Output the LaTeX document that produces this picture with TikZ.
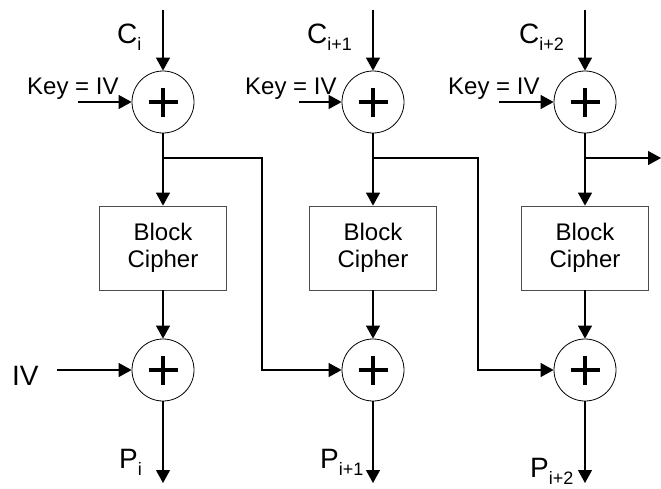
\documentclass[tikz,border=0pt]{standalone}
\usepackage{fontspec}
\setmainfont{Liberation Sans}
\usepackage{tikz}
\usetikzlibrary{arrows.meta}

\newcommand{\lblsub}[2]{{\fontsize{28}{30}\selectfont #1}\raisebox{-7.5pt}{\fontsize{18}{19}\selectfont #2}}

\begin{document}
\begin{tikzpicture}[x=1pt, y=-1pt,
      xorgate/.style = {
        circle, draw=black, line width=0.8pt,
        minimum size=62pt, inner sep=0pt,
        path picture={
          \draw[line width=4.8pt] ([xshift=-14.5pt]path picture bounding box.center) -- ([xshift=14.5pt]path picture bounding box.center);
          \draw[line width=4.8pt] ([yshift=-14.5pt]path picture bounding box.center) -- ([yshift=14.5pt]path picture bounding box.center);
        }
      },
      cipherbox/.style = {
        rectangle, draw=black!70, line width=0.8pt,
        minimum width=127pt, minimum height=84pt, inner sep=0pt,
        align=center, font=\fontsize{24}{26.5}\selectfont
      },
      flow/.style = {line width=1.2pt, -{Triangle[length=13pt, width=14pt]}},
      keytext/.style = {anchor=base west, inner sep=0pt, font=\fontsize{24}{26}\selectfont},
      lbl/.style = {anchor=base west, inner sep=0pt}
    ]

    \useasboundingbox (0,0) rectangle (661,488);

    % gates and ciphers
    \node[xorgate]   (xtop1) at (163,102) {};
    \node[xorgate]   (xtop2) at (373,102) {};
    \node[xorgate]   (xtop3) at (585,102) {};

    \node[cipherbox] (blk1)  at (163,248) {Block\\Cipher};
    \node[cipherbox] (blk2)  at (373,248) {Block\\Cipher};
    \node[cipherbox] (blk3)  at (585,248) {Block\\Cipher};

    \node[xorgate]   (xbot1) at (163,370) {};
    \node[xorgate]   (xbot2) at (373,370) {};
    \node[xorgate]   (xbot3) at (585,370) {};

    % free ends
    \coordinate (cin1)  at (163,10);
    \coordinate (cin2)  at (373,10);
    \coordinate (cin3)  at (585,10);
    \coordinate (kin1)  at (78,102);
    \coordinate (kin2)  at (299,102);
    \coordinate (kin3)  at (499,102);
    \coordinate (ivin)  at (57,370);
    \coordinate (pout1) at (163,483);
    \coordinate (pout2) at (373,483);
    \coordinate (pout3) at (585,483);
    \coordinate (tap1)  at (163,158);
    \coordinate (tap2)  at (373,158);
    \coordinate (tap3)  at (585,158);
    \coordinate (bend1) at (262,370);
    \coordinate (bend2) at (478,370);
    \coordinate (tapout) at (661,158);

    % labels
    \node[lbl] (lc1) at (117,43) {\lblsub{C}{i}};
    \node[lbl] (lc2) at (307,43) {\lblsub{C}{i+1}};
    \node[lbl] (lc3) at (519,43) {\lblsub{C}{i+2}};
    \node[keytext] (key1) at (27,94)  {Key = IV};
    \node[keytext] (key2) at (245,94) {Key = IV};
    \node[keytext] (key3) at (448,94) {Key = IV};
    \node[lbl, font=\fontsize{28}{30}\selectfont] (ivtext) at (12,385) {IV};
    \node[lbl] (lp1) at (119,468) {\lblsub{P}{i}};
    \node[lbl] (lp2) at (320,468) {\lblsub{P}{i+1}};
    \node[lbl] (lp3) at (530,477) {\lblsub{P}{i+2}};

    % connectors
    \draw[flow] (cin1) -- (xtop1);
    \draw[flow] (cin2) -- (xtop2);
    \draw[flow] (cin3) -- (xtop3);
    \draw[flow] (kin1) -- (xtop1);
    \draw[flow] (kin2) -- (xtop2);
    \draw[flow] (kin3) -- (xtop3);

    \draw[flow] (xtop1) -- (blk1);
    \draw[flow] (xtop2) -- (blk2);
    \draw[flow] (xtop3) -- (blk3);
    \draw[flow] (blk1) -- (xbot1);
    \draw[flow] (blk2) -- (xbot2);
    \draw[flow] (blk3) -- (xbot3);

    \draw[flow] (ivin) -- (xbot1);
    \draw[flow] (tap1) -| (bend1) -- (xbot2);
    \draw[flow] (tap2) -| (bend2) -- (xbot3);
    \draw[flow] (tap3) -- (tapout);

    \draw[flow] (xbot1) -- (pout1);
    \draw[flow] (xbot2) -- (pout2);
    \draw[flow] (xbot3) -- (pout3);

  \end{tikzpicture}
\end{document}
